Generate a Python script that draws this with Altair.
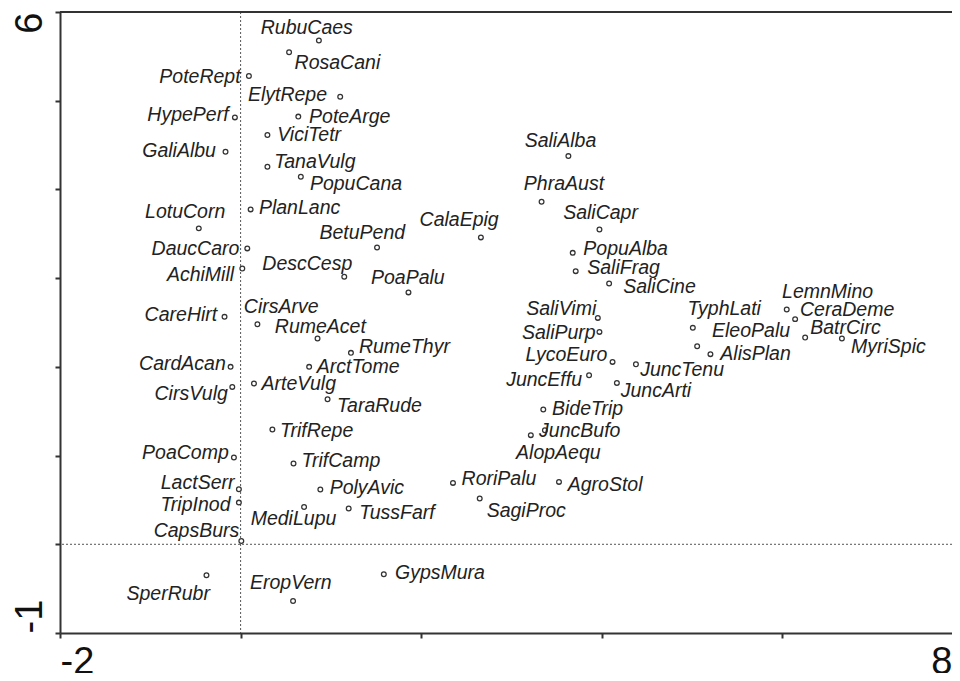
import altair as alt
import pandas as pd

# Species (ordination scores)
species = ["RubuCaes", "RosaCani", "PoteRept", "ElytRepe", "HypePerf", "PoteArge", "ViciTetr", "GaliAlbu",
           "TanaVulg", "PopuCana", "PlanLanc", "LotuCorn", "DaucCaro", "AchiMill", "CareHirt", "CirsArve",
           "RumeAcet", "RumeThyr", "ArctTome", "CardAcan", "CirsVulg", "ArteVulg", "TaraRude", "TrifRepe",
           "PoaComp", "TrifCamp", "LactSerr", "TripInod", "MediLupu", "CapsBurs", "SperRubr", "EropVern",
           "PolyAvic", "TussFarf", "GypsMura", "RoriPalu", "SagiProc", "AgroStol", "AlopAequ", "JuncBufo",
           "BideTrip", "JuncEffu", "JuncArti", "LycoEuro", "SaliPurp", "SaliVimi", "SaliCine", "SaliFrag",
           "PopuAlba", "SaliCapr", "PhraAust", "SaliAlba", "CalaEpig", "BetuPend", "DescCesp", "PoaPalu",
           "TyphLati", "EleoPalu", "AlisPlan", "JuncTenu", "LemnMino", "CeraDeme", "BatrCirc", "MyriSpic"]

axis1 = [0.867, 0.537, 0.092, 1.103, -0.063, 0.639, 0.297, -0.167,
         0.297, 0.667, 0.111, -0.463, 0.074, 0.019, -0.178, 0.186,
         0.852, 1.222, 0.759, -0.111, -0.092, 0.148, 0.963, 0.352,
         -0.074, 0.586, -0.019, -0.019, 0.703, 0.008, -0.378, 0.581,
         0.883, 1.197, 1.586, 2.352, 2.648, 3.526, 3.214, 3.370,
         3.352, 3.859, 4.167, 4.119, 3.974, 3.956, 4.081, 3.711,
         3.678, 3.974, 3.333, 3.630, 2.661, 1.511, 1.148, 1.859,
         5.008, 5.056, 5.203, 4.378, 6.048, 6.141, 6.252, 6.659]

axis2 = [5.679, 5.546, 5.278, 5.045, 4.812, 4.821, 4.613, 4.424,
         4.255, 4.143, 3.775, 3.561, 3.335, 3.109, 2.564, 2.481,
         2.320, 2.158, 2.000, 2.000, 1.774, 1.813, 1.635, 1.294,
         0.978, 0.910, 0.621, 0.470, 0.421, 0.037, -0.349, -0.639,
         0.617, 0.403, -0.338, 0.692, 0.516, 0.703, 1.230, 1.286,
         1.519, 1.906, 1.819, 2.056, 2.394, 2.552, 2.940, 3.079,
         3.285, 3.549, 3.861, 4.376, 3.459, 3.346, 3.015, 2.839,
         2.440, 2.233, 2.143, 2.030, 2.647, 2.538, 2.331, 2.320]

# Label anchor points (in axis units)
label_x = [0.733, 1.072, -0.450, 0.519, -0.583, 1.208, 0.759, -0.681,
           0.822, 1.278, 0.653, -0.614, -0.500, -0.444, -0.661, 0.450,
           0.883, 1.814, 1.302, -0.644, -0.547, 0.644, 1.537, 0.842,
           -0.611, 1.111, -0.476, -0.500, 0.586, -0.489, -0.802, 0.556,
           1.398, 1.731, 2.208, 2.861, 3.163, 4.037, 3.519, 3.756,
           3.842, 3.361, 4.600, 3.608, 3.524, 3.550, 4.639, 4.241,
           4.264, 3.986, 3.581, 3.542, 2.420, 1.348, 0.739, 1.852,
           5.356, 5.653, 5.703, 4.889, 6.500, 6.717, 6.698, 7.174]

label_y = [5.820, 5.425, 5.267, 5.064, 4.838, 4.816, 4.613, 4.432,
           4.308, 4.066, 3.793, 3.748, 3.329, 3.034, 2.586, 2.679,
           2.450, 2.228, 2.002, 2.027, 1.692, 1.805, 1.562, 1.282,
           1.027, 0.940, 0.688, 0.446, 0.282, 0.147, -0.564, -0.436,
           0.635, 0.353, -0.323, 0.733, 0.380, 0.673, 1.030, 1.275,
           1.523, 1.850, 1.726, 2.132, 2.380, 2.647, 2.895, 3.116,
           3.333, 3.737, 4.057, 4.545, 3.654, 3.511, 3.161, 3.004,
           2.647, 2.402, 2.146, 1.970, 2.842, 2.636, 2.440, 2.219]

x_ticks = [-2, 0, 2, 4, 6, 8]
y_ticks = [-1, 0, 1, 2, 3, 4, 5, 6]
x_tick_labels = {-2: "-2", 8: "8"}
y_tick_labels = {-1: "-1", 6: "6"}
x_domain = [-2, 8]
y_domain = [-1, 6]
ref_x = [0]
ref_y = [0]

df = pd.DataFrame({"species": species, "ax1": axis1, "ax2": axis2, "lx": label_x, "ly": label_y})


def label_expr(mapping):
    parts = " : ".join(f"datum.value == {k} ? '{v}'" for k, v in mapping.items())
    return parts + " : ''"


PLOT_W = 892      # visible plot width (page is cut at the right, as in the original)
X_RANGE = 903     # full length of the x axis (extends past the page edge)
PLOT_H = 621

xs = alt.Scale(domain=x_domain, nice=False, zero=False, range=[0, X_RANGE])
ys = alt.Scale(domain=y_domain, nice=False, zero=False)

FRAME = "#333333"
axis_common = dict(title=None, grid=False, domainColor=FRAME, domainWidth=2,
                   tickColor=FRAME, tickWidth=2, tickSize=5, labelFont="Liberation Sans",
                   labelFontSize=38, labelColor="#111111", labelOverlap=False, labelFlush=False)

x_axis = alt.Axis(values=x_ticks, labelExpr=label_expr(x_tick_labels),
                  labelBaseline="top", labelPadding=5,
                  labelAlign={"condition": {"test": f"datum.value == {x_domain[1]}", "value": "right"},
                              "value": "left"},
                  labelOffset={"condition": {"test": f"datum.value == {x_domain[1]}",
                                             "value": PLOT_W - X_RANGE},
                               "value": 0},
                  **axis_common)
y_axis = alt.Axis(values=y_ticks, labelExpr=label_expr(y_tick_labels),
                  labelAngle=270, labelBaseline="alphabetic", labelPadding=14,
                  labelAlign={"condition": {"test": f"datum.value == {y_domain[1]}", "value": "right"},
                              "value": "left"},
                  **axis_common)

base = alt.Chart(df)

vline = alt.Chart(pd.DataFrame({"v": ref_x})).mark_rule(
    color="#555555", strokeWidth=1, strokeDash=[2, 2]
).encode(x=alt.X("v:Q", scale=xs, axis=x_axis))

hline = alt.Chart(pd.DataFrame({"v": ref_y})).mark_rule(
    color="#555555", strokeWidth=1, strokeDash=[2, 2]
).encode(y=alt.Y("v:Q", scale=ys, axis=y_axis))

top_frame = alt.Chart(pd.DataFrame({"x": [x_domain[0]], "x2": [x_domain[1]], "y": [y_domain[1]]})).mark_rule(
    color=FRAME, strokeWidth=2
).encode(x=alt.X("x:Q", scale=xs), x2="x2:Q", y=alt.Y("y:Q", scale=ys))

points = base.mark_point(shape="circle", filled=False, size=22, strokeWidth=1.3,
                         color="#333333", fill="white", fillOpacity=1).encode(
    x=alt.X("ax1:Q", scale=xs, axis=x_axis),
    y=alt.Y("ax2:Q", scale=ys, axis=y_axis),
)

labels = base.mark_text(font="Liberation Sans", fontStyle="italic", fontSize=19.5,
                        color="#222222", align="center", baseline="middle").encode(
    x=alt.X("lx:Q", scale=xs),
    y=alt.Y("ly:Q", scale=ys),
    text="species:N",
)

chart = alt.layer(vline, hline, top_frame, points, labels).properties(
    width=PLOT_W, height=PLOT_H,
    autosize=alt.AutoSizeParams(type="none"),
    padding={"left": 52, "top": 4, "right": 0, "bottom": 40},
).configure_view(strokeWidth=0)

chart.save("out.html", embed_options={"renderer": "svg", "actions": False})
